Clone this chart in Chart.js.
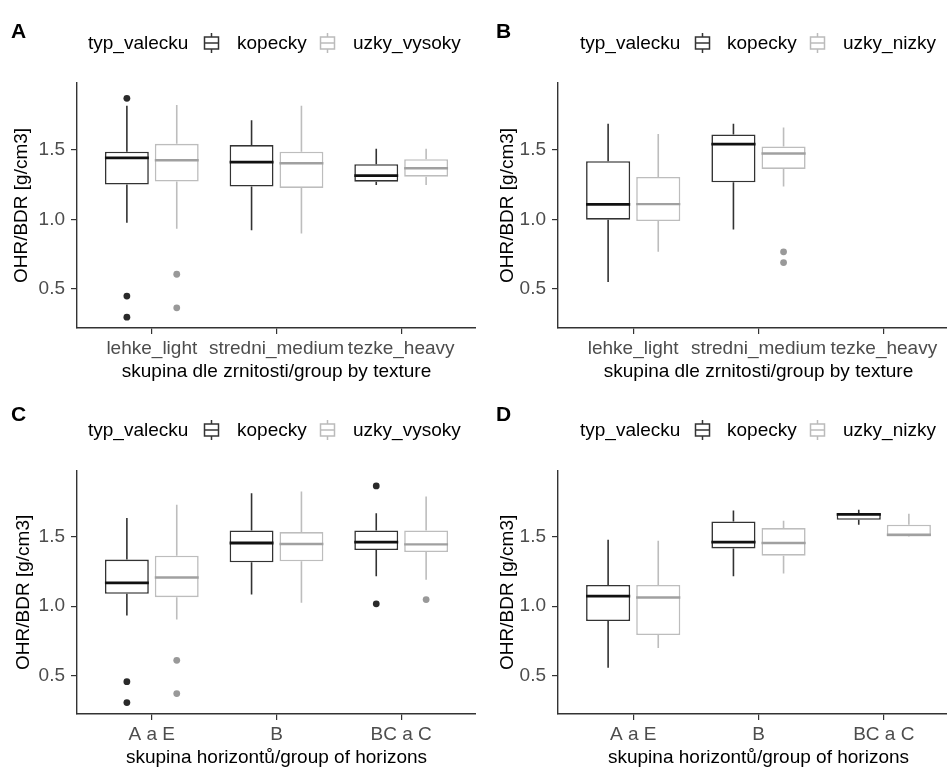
<!DOCTYPE html>
<html>
<head>
<meta charset="utf-8">
<script src="https://cdn.jsdelivr.net/npm/chart.js@4.4.1/dist/chart.umd.min.js"></script>
<style>
html,body{margin:0;padding:0;background:#fff;width:947px;height:767px;overflow:hidden;position:relative;font-family:"Liberation Sans",Arial,sans-serif;}
.panel{position:absolute;}
.lbl{position:absolute;font-size:19px;line-height:22px;color:#000;white-space:nowrap;}
.letter{position:absolute;font-weight:bold;font-size:21px;line-height:22px;color:#000;}
.icon{position:absolute;}
</style>
</head>
<body>
<script>
// ---------------- DATA ----------------
const textureCats = ['lehke_light', 'stredni_medium', 'tezke_heavy'];
const horizonCats = ['A a E', 'B', 'BC a C'];
const yTicks = [0.5, 1.0, 1.5];
const yTickLabels = ['0.5', '1.0', '1.5'];
const yLimits = [0.22, 1.98];
const yTitle = 'OHR/BDR [g/cm3]';
const xTitleTexture = 'skupina dle zrnitosti/group by texture';
const xTitleHorizon = 'skupina horizontů/group of horizons';
const legendTitle = 'typ_valecku';
const panelLetters = ['A', 'B', 'C', 'D'];

// Panel A: kopecky vs uzky_vysoky, by texture
const aKopLow  = [0.976, 0.923, 1.247];
const aKopQ1   = [1.250, 1.236, 1.271];
const aKopMed  = [1.442, 1.411, 1.315];
const aKopQ3   = [1.486, 1.534, 1.397];
const aKopHigh = [1.817, 1.712, 1.507];
const aKopOut  = [[1.87, 0.449, 0.298], [], []];
const aUzkLow  = [0.933, 0.899, 1.247];
const aUzkQ1   = [1.272, 1.226, 1.307];
const aUzkMed  = [1.425, 1.404, 1.368];
const aUzkQ3   = [1.543, 1.486, 1.433];
const aUzkHigh = [1.822, 1.817, 1.507];
const aUzkOut  = [[0.606, 0.365], [], []];

// Panel B: kopecky vs uzky_nizky, by texture (no tezke_heavy data)
const bKopLow  = [0.550, 0.928];
const bKopQ1   = [0.998, 1.267];
const bKopMed  = [1.108, 1.541];
const bKopQ3   = [1.418, 1.610];
const bKopHigh = [1.688, 1.688];
const bKopOut  = [[], []];
const bUzkLow  = [0.767, 1.236];
const bUzkQ1   = [0.988, 1.363];
const bUzkMed  = [1.110, 1.474];
const bUzkQ3   = [1.305, 1.524];
const bUzkHigh = [1.613, 1.661];
const bUzkOut  = [[], [0.767, 0.690]];

// Panel C: kopecky vs uzky_vysoky, by horizons
const cKopLow  = [0.933, 1.084, 1.216];
const cKopQ1   = [1.089, 1.317, 1.406];
const cKopMed  = [1.168, 1.457, 1.464];
const cKopQ3   = [1.337, 1.548, 1.548];
const cKopHigh = [1.637, 1.817, 1.673];
const cKopOut  = [[0.454, 0.303], [], [1.87, 1.017]];
const cUzkLow  = [0.904, 1.024, 1.192];
const cUzkQ1   = [1.065, 1.325, 1.392];
const cUzkMed  = [1.207, 1.450, 1.447];
const cUzkQ3   = [1.365, 1.536, 1.548];
const cUzkHigh = [1.733, 1.829, 1.793];
const cUzkOut  = [[0.608, 0.368], [], [1.048]];

// Panel D: kopecky vs uzky_nizky, by horizons
const dKopLow  = [0.555, 1.216, 1.589];
const dKopQ1   = [0.892, 1.418, 1.625];
const dKopMed  = [1.072, 1.464, 1.664];
const dKopQ3   = [1.154, 1.613, 1.673];
const dKopHigh = [1.481, 1.692, 1.697];
const dKopOut  = [[], [], []];
const dUzkLow  = [0.697, 1.236, 1.500];
const dUzkQ1   = [0.791, 1.365, 1.504];
const dUzkMed  = [1.0625, 1.457, 1.517];
const dUzkQ3   = [1.154, 1.565, 1.589];
const dUzkHigh = [1.474, 1.618, 1.668];
const dUzkOut  = [[], [], []];

// ---------------- STYLE ----------------
const FONT = '"Liberation Sans", Arial, sans-serif';
const darkStyle  = {border: '#333333', median: '#111111', medianWidth: 2.8, outlier: '#2a2a2a', width: 1.6};
const lightStyle = {border: '#bdbdbd', median: '#a0a0a0', medianWidth: 2.4, outlier: '#999999', width: 1.6};

const boxPlugin = {
  id: 'boxWhiskers',
  afterDatasetsDraw(chart) {
    const ctx = chart.ctx, ys = chart.scales.y;
    chart.data.datasets.forEach((ds, di) => {
      const meta = chart.getDatasetMeta(di);
      const st = ds.stats;
      meta.data.forEach((bar, j) => {
        const p = bar.getProps(['x', 'width'], true);
        const k = ds.data[j].x;
        ctx.save();
        ctx.strokeStyle = ds.borderColor;
        ctx.lineWidth = ds.borderWidth;
        ctx.beginPath();
        ctx.moveTo(p.x, ys.getPixelForValue(st.q3[k]));
        ctx.lineTo(p.x, ys.getPixelForValue(st.high[k]));
        ctx.moveTo(p.x, ys.getPixelForValue(st.q1[k]));
        ctx.lineTo(p.x, ys.getPixelForValue(st.low[k]));
        ctx.stroke();
        const my = ys.getPixelForValue(st.med[k]);
        ctx.strokeStyle = ds.medianColor;
        ctx.lineWidth = ds.medianWidth;
        ctx.beginPath();
        ctx.moveTo(p.x - p.width / 2, my);
        ctx.lineTo(p.x + p.width / 2, my);
        ctx.stroke();
        ctx.fillStyle = ds.outlierColor;
        (st.out[k] || []).forEach(v => {
          ctx.beginPath();
          ctx.arc(p.x, ys.getPixelForValue(v), 3.4, 0, Math.PI * 2);
          ctx.fill();
        });
        ctx.restore();
      });
    });
  }
};

function makeDataset(name, st, style) {
  return {
    label: name,
    data: st.q1.map((q, k) => ({x: k, y: [q, st.q3[k]]})),
    stats: st,
    backgroundColor: '#ffffff',
    borderColor: style.border,
    borderWidth: style.width,
    borderSkipped: false,
    medianColor: style.median,
    medianWidth: style.medianWidth,
    outlierColor: style.outlier,
    categoryPercentage: 0.8,
    barPercentage: 0.88
  };
}

function addText(txt, left, centerY, cls) {
  const d = document.createElement('div');
  d.className = cls || 'lbl';
  d.textContent = txt;
  d.style.left = left + 'px';
  d.style.top = (centerY - 11) + 'px';
  document.body.appendChild(d);
}

function addIcon(left, centerY, color) {
  const ns = 'http://www.w3.org/2000/svg';
  const s = document.createElementNS(ns, 'svg');
  s.setAttribute('width', '18'); s.setAttribute('height', '22');
  s.setAttribute('class', 'icon');
  s.style.left = left + 'px'; s.style.top = (centerY - 11) + 'px';
  const parts = [
    ['line', {x1: 8.5, y1: 1, x2: 8.5, y2: 5}],
    ['rect', {x: 1.5, y: 5, width: 14, height: 12, fill: 'none'}],
    ['line', {x1: 1.5, y1: 11, x2: 15.5, y2: 11}],
    ['line', {x1: 8.5, y1: 17, x2: 8.5, y2: 21}]
  ];
  parts.forEach(([tag, attrs]) => {
    const e = document.createElementNS(ns, tag);
    Object.entries(attrs).forEach(([a, v]) => e.setAttribute(a, v));
    e.setAttribute('stroke', color); e.setAttribute('stroke-width', '1.5');
    s.appendChild(e);
  });
  document.body.appendChild(s);
}

function makePanel(g, cats, xTitle, series) {
  const c = document.createElement('canvas');
  c.width = g.w; c.height = g.h;
  c.className = 'panel';
  c.style.left = g.left + 'px'; c.style.top = g.top + 'px';
  c.style.width = g.w + 'px'; c.style.height = g.h + 'px';
  document.body.appendChild(c);
  const fontTick = {family: FONT, size: 19};
  new Chart(c.getContext('2d'), {
    type: 'bar',
    data: {datasets: series.map(s => makeDataset(s.name, s.stats, s.style))},
    options: {
      responsive: false, animation: false, devicePixelRatio: 1,
      layout: {padding: {top: g.padTop, left: 0, right: 0, bottom: 0}},
      plugins: {legend: {display: false}, tooltip: {enabled: false}},
      scales: {
        x: {
          type: 'linear', min: -0.6, max: 2.6, offset: false,
          afterBuildTicks: s => { s.ticks = cats.map((_, i) => ({value: i})); },
          afterFit: s => { s.height = g.h - g.padTop - g.plotH; },
          ticks: {autoSkip: false, maxRotation: 0, minRotation: 0, padding: 3,
                  color: '#4d4d4d', font: fontTick, callback: v => cats[v]},
          grid: {display: true, offset: false, drawOnChartArea: false, drawTicks: true, tickLength: 6, color: '#333333', lineWidth: 1.2},
          border: {display: true, color: '#333333', width: 1.4},
          title: {display: true, text: xTitle, color: '#000', font: {family: FONT, size: 19},
                  padding: {top: 0, bottom: g.xTitlePad}}
        },
        y: {
          min: yLimits[0], max: yLimits[1],
          afterBuildTicks: s => { s.ticks = yTicks.map(v => ({value: v})); },
          afterFit: s => { s.width = g.yW; },
          ticks: {padding: 6, color: '#4d4d4d', font: fontTick, callback: (v, i) => yTickLabels[i]},
          grid: {display: true, offset: false, drawOnChartArea: false, drawTicks: true, tickLength: 6, color: '#333333', lineWidth: 1.2},
          border: {display: true, color: '#333333', width: 1.4},
          title: {display: true, text: yTitle, color: '#000', font: {family: FONT, size: 19},
                  padding: {top: g.yTitlePad, bottom: 0}}
        }
      }
    },
    plugins: [boxPlugin]
  });
}

function stats(low, q1, med, q3, high, out) { return {low, q1, med, q3, high, out}; }

// ---------------- LAYOUT ----------------
const gA = {left: 0,   top: 0,   w: 476, h: 385, padTop: 83,  plotH: 245, yW: 77, yTitlePad: 10.5, xTitlePad: 1.6};
const gB = {left: 470, top: 0,   w: 489, h: 385, padTop: 83,  plotH: 245, yW: 88, yTitlePad: 26,   xTitlePad: 1.6};
const gC = {left: 0,   top: 388, w: 476, h: 400, padTop: 82.7, plotH: 243.3, yW: 77, yTitlePad: 12,   xTitlePad: 18.6};
const gD = {left: 470, top: 388, w: 489, h: 400, padTop: 82.7, plotH: 243.3, yW: 88, yTitlePad: 26,   xTitlePad: 18.6};

makePanel(gA, textureCats, xTitleTexture, [
  {name: 'kopecky', stats: stats(aKopLow, aKopQ1, aKopMed, aKopQ3, aKopHigh, aKopOut), style: darkStyle},
  {name: 'uzky_vysoky', stats: stats(aUzkLow, aUzkQ1, aUzkMed, aUzkQ3, aUzkHigh, aUzkOut), style: lightStyle}
]);
makePanel(gB, textureCats, xTitleTexture, [
  {name: 'kopecky', stats: stats(bKopLow, bKopQ1, bKopMed, bKopQ3, bKopHigh, bKopOut), style: darkStyle},
  {name: 'uzky_nizky', stats: stats(bUzkLow, bUzkQ1, bUzkMed, bUzkQ3, bUzkHigh, bUzkOut), style: lightStyle}
]);
makePanel(gC, horizonCats, xTitleHorizon, [
  {name: 'kopecky', stats: stats(cKopLow, cKopQ1, cKopMed, cKopQ3, cKopHigh, cKopOut), style: darkStyle},
  {name: 'uzky_vysoky', stats: stats(cUzkLow, cUzkQ1, cUzkMed, cUzkQ3, cUzkHigh, cUzkOut), style: lightStyle}
]);
makePanel(gD, horizonCats, xTitleHorizon, [
  {name: 'kopecky', stats: stats(dKopLow, dKopQ1, dKopMed, dKopQ3, dKopHigh, dKopOut), style: darkStyle},
  {name: 'uzky_nizky', stats: stats(dUzkLow, dUzkQ1, dUzkMed, dUzkQ3, dUzkHigh, dUzkOut), style: lightStyle}
]);

// Legends and panel letters
function legend(x0, cy, secondName, pos) {
  addText(legendTitle, x0, cy);
  addIcon(pos[0], cy, '#333333');
  addText('kopecky', pos[1], cy);
  addIcon(pos[2], cy, '#bbbbbb');
  addText(secondName, pos[3], cy);
}
legend(88, 42.7, 'uzky_vysoky', [203, 237, 319, 353]);
legend(580, 42.7, 'uzky_nizky', [694, 727, 809, 843]);
legend(88, 430, 'uzky_vysoky', [203, 237, 319, 353]);
legend(580, 430, 'uzky_nizky', [694, 727, 809, 843]);

function letter(t, x, cy) {
  const d = document.createElement('div');
  d.className = 'letter'; d.textContent = t;
  d.style.left = x + 'px'; d.style.top = (cy - 11) + 'px';
  document.body.appendChild(d);
}
letter(panelLetters[0], 11, 31);
letter(panelLetters[1], 496, 31);
letter(panelLetters[2], 11, 414);
letter(panelLetters[3], 496, 414);
</script>
</body>
</html>
